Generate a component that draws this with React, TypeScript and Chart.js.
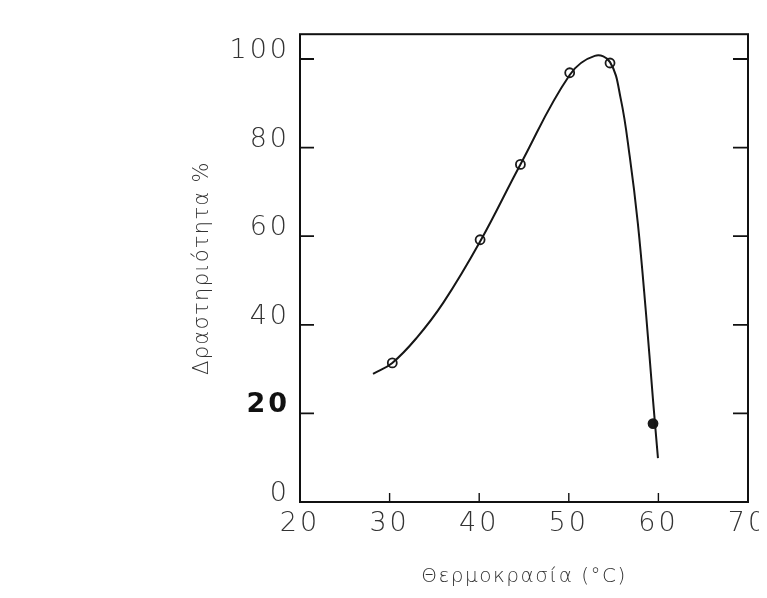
import React, { useEffect, useRef } from "react";
import { Chart, registerables } from "chart.js";

Chart.register(...registerables);

// Smooth activity curve (temperature °C, activity %)
const curveX = [28.15, 30.3, 33.0, 36.0, 40.1, 44.6, 50.1, 52.9, 54.6, 55.8, 56.8, 57.7, 58.6, 59.4, 59.95];
const curveY = [28.9, 31.4, 37.0, 45.0, 58.8, 76.2, 96.4, 100.7, 99.3, 91.0, 78.0, 63.0, 43.0, 23.0, 9.9];

// Measured points
const markerX = [30.3, 40.1, 44.6, 50.1, 54.6, 59.4];
const markerY = [31.4, 59.2, 76.2, 96.9, 99.1, 17.7];
const markerFilled = [false, false, false, false, false, true];

const xTicks = [20, 30, 40, 50, 60, 70];
const yTicks = [0, 20, 40, 60, 80, 100];
const xMinorMarks = [30, 40, 50, 60];
const yMarks = [20, 40, 60, 80, 100];

const xTitle = "Θερμοκρασία (°C)";
const yTitle = "Δραστηριότητα %";

const FONT = '"DejaVu Sans", "Noto Sans", sans-serif';

const framePlugin = {
  id: "frame",
  beforeDraw(chart: any) {
    chart.ctx.letterSpacing = "3px";
  },
  beforeDatasetsDraw(chart: any) {
    chart.ctx.letterSpacing = "0px";
  },
  afterDatasetsDraw(chart: any) {
    const { ctx, chartArea, scales } = chart;
    const { left, right, top, bottom } = chartArea;
    ctx.save();
    ctx.strokeStyle = "#111";
    ctx.lineWidth = 2;
    ctx.strokeRect(left, top, right - left, bottom - top);
    ctx.lineWidth = 1.8;
    for (const v of yMarks) {
      const py = scales.y.getPixelForValue(v);
      ctx.beginPath();
      ctx.moveTo(left, py);
      ctx.lineTo(left + 14, py);
      ctx.moveTo(right - 15, py);
      ctx.lineTo(right, py);
      ctx.stroke();
    }
    ctx.lineWidth = 1.4;
    for (const v of xMinorMarks) {
      const px = scales.x.getPixelForValue(v);
      ctx.beginPath();
      ctx.moveTo(px, bottom);
      ctx.lineTo(px, bottom - 9);
      ctx.stroke();
    }
    ctx.restore();
  },
  afterDraw(chart: any) {
    const { ctx, chartArea } = chart;
    const { left, right, top, bottom } = chartArea;
    ctx.save();
    ctx.fillStyle = "#333";
    ctx.textAlign = "center";
    ctx.textBaseline = "middle";
    ctx.font = `300 20px ${FONT}`;
    ctx.letterSpacing = "1.5px";
    ctx.fillText(xTitle, (left + right) / 2, 569);
    ctx.font = `300 21px ${FONT}`;
    ctx.letterSpacing = "1.3px";
    ctx.translate(195, (top + bottom) / 2);
    ctx.rotate(-Math.PI / 2);
    ctx.fillText(yTitle, 0, 0);
    ctx.restore();
  },
};

export default function App() {
  const ref = useRef<HTMLCanvasElement>(null);

  useEffect(() => {
    document.body.style.overflow = "hidden";
    const canvas = ref.current;
    if (!canvas) return;
    const chart = new Chart(canvas, {
      type: "scatter",
      data: {
        datasets: [
          {
            data: curveX.map((x, i) => ({ x, y: curveY[i] })),
            showLine: true,
            borderColor: "#161616",
            borderWidth: 2,
            pointRadius: 0,
            tension: 0.4,
          },
          {
            data: markerX.map((x, i) => ({ x, y: markerY[i] })),
            showLine: false,
            pointRadius: 4.5,
            pointBorderWidth: 1.8,
            pointBorderColor: "#1a1a1a",
            pointBackgroundColor: markerFilled.map((f) => (f ? "#1a1a1a" : "#fff")),
          },
        ],
      } as any,
      options: {
        responsive: false,
        animation: false,
        layout: { padding: { left: 0, top: 23, right: 60, bottom: 3 } },
        plugins: { legend: { display: false }, tooltip: { enabled: false } },
        scales: {
          x: {
            type: "linear",
            min: 20,
            max: 70,
            afterBuildTicks: (s: any) => {
              s.ticks = xTicks.map((v) => ({ value: v }));
            },
            afterFit: (s: any) => {
              s.height = 85;
            },
            grid: { display: false, drawTicks: false },
            border: { display: false },
            ticks: {
              autoSkip: false,
              maxRotation: 0,
              padding: 6,
              color: "#333",
              font: { family: FONT, size: 27, weight: "300" },
              callback: (v: any) => String(v),
            },
          },
          y: {
            type: "linear",
            min: 0,
            max: 105.6,
            afterBuildTicks: (s: any) => {
              s.ticks = yTicks.map((v) => ({ value: v }));
            },
            afterFit: (s: any) => {
              s.width = 292;
            },
            grid: { display: false, drawTicks: false },
            border: { display: false },
            ticks: {
              autoSkip: false,
              padding: 10,
              labelOffset: -8,
              color: (c: any) => (c.tick && c.tick.value === 20 ? "#111" : "#333"),
              font: (c: any) => ({
                family: FONT,
                size: 27,
                weight: c.tick && c.tick.value === 20 ? "bold" : "300",
              }),
              callback: (v: any) => String(v),
            },
          },
        },
      } as any,
      plugins: [framePlugin],
    });
    return () => chart.destroy();
  }, []);

  return (
    <div style={{ width: 759, height: 582, overflow: "hidden", position: "relative" }}>
      <canvas ref={ref} width={800} height={582} style={{ display: "block" }} />
    </div>
  );
}
